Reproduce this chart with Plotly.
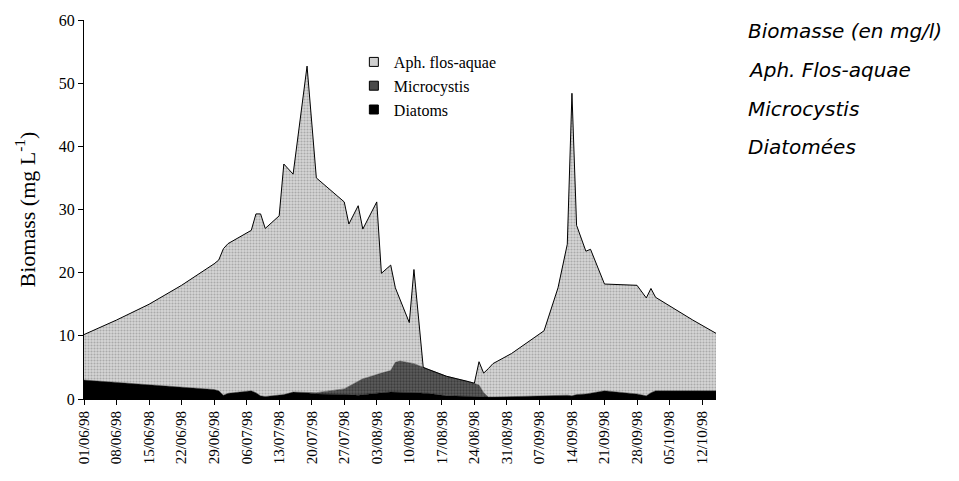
import plotly.graph_objects as go

dates = ["1998-06-01","1998-06-08","1998-06-15","1998-06-22","1998-06-29","1998-06-30",
         "1998-07-01","1998-07-02","1998-07-07","1998-07-08","1998-07-09","1998-07-10",
         "1998-07-13","1998-07-14","1998-07-16","1998-07-19","1998-07-21","1998-07-27",
         "1998-07-28","1998-07-30","1998-07-31","1998-08-01","1998-08-03","1998-08-04",
         "1998-08-06","1998-08-07","1998-08-08","1998-08-10","1998-08-11","1998-08-12",
         "1998-08-13","1998-08-14","1998-08-18","1998-08-23","1998-08-24","1998-08-25",
         "1998-08-26","1998-08-27","1998-08-28","1998-09-01","1998-09-08","1998-09-11",
         "1998-09-13","1998-09-14","1998-09-15","1998-09-17","1998-09-18","1998-09-21",
         "1998-09-28","1998-09-30","1998-10-01","1998-10-02","1998-10-10","1998-10-15"]

diatoms = [3.0,2.6,2.2,1.9,1.5,1.3,
           0.6,0.9,1.3,1.0,0.5,0.4,
           0.6,0.7,1.1,1.0,0.8,0.8,
           0.7,0.6,0.7,0.8,0.9,1.0,
           1.1,1.1,1.0,1.1,1.1,1.0,
           0.9,0.9,0.5,0.4,0.3,0.3,
           0.3,0.3,0.3,0.4,0.5,0.6,
           0.6,0.5,0.7,0.8,0.9,1.3,
           0.8,0.5,1.0,1.3,1.3,1.3]

microcystis = [0,0,0,0,0,0,
               0,0,0,0,0,0,
               0,0,0,0,0.2,0.8,
               1.3,2.3,2.5,2.6,3.0,3.1,
               3.4,4.7,5.0,4.7,4.5,4.3,
               4.1,3.8,3.1,2.3,2.2,1.9,
               0.7,0,0,0,0,0,
               0,0,0,0,0,0,
               0,0,0,0,0,0]

aph = [7.2,9.9,12.8,16.1,19.9,20.7,
       23.2,23.7,25.4,28.3,28.8,26.6,
       28.4,36.5,34.5,51.7,34.0,29.6,
       25.7,27.7,23.7,24.9,27.3,15.8,
       16.7,11.8,9.8,6.3,14.9,7.3,
       0,0,0,0,0,3.7,
       3.1,4.5,5.3,6.8,10.3,17.0,
       23.9,47.9,26.8,22.6,22.8,16.9,
       17.2,15.5,16.5,14.8,11.2,9.1]

tick_vals = ["1998-06-01","1998-06-08","1998-06-15","1998-06-22","1998-06-29","1998-07-06",
             "1998-07-13","1998-07-20","1998-07-27","1998-08-03","1998-08-10","1998-08-17",
             "1998-08-24","1998-08-31","1998-09-07","1998-09-14","1998-09-21","1998-09-28",
             "1998-10-05","1998-10-12"]
tick_text = ["01/06/98","08/06/98","15/06/98","22/06/98","29/06/98","06/07/98",
             "13/07/98","20/07/98","27/07/98","03/08/98","10/08/98","17/08/98",
             "24/08/98","31/08/98","07/09/98","14/09/98","21/09/98","28/09/98",
             "05/10/98","12/10/98"]

legend_names = ["Aph. flos-aquae", "Microcystis", "Diatoms"]
side_texts = ["Biomasse (en mg/l)", "Aph. Flos-aquae", "Microcystis", "Diatomées"]

serif = "Liberation Serif, Times New Roman, serif"

fig = go.Figure()
fig.add_trace(go.Scatter(x=dates, y=diatoms, stackgroup="s", mode="lines",
                         line=dict(color="#000000", width=0.5),
                         fillcolor="#000000", showlegend=False, name="Diatoms"))
fig.add_trace(go.Scatter(x=dates, y=microcystis, stackgroup="s", mode="lines",
                         line=dict(color="#2a2a2a", width=0.5),
                         fillcolor="#4a4a4a",
                         fillpattern=dict(shape=".", fgcolor="#1e1e1e", bgcolor="#5c5c5c",
                                          size=3, solidity=0.45),
                         showlegend=False, name="Microcystis"))
fig.add_trace(go.Scatter(x=dates, y=aph, stackgroup="s", mode="lines",
                         line=dict(color="#000000", width=1),
                         fillcolor="#c4c4c4",
                         fillpattern=dict(shape=".", fgcolor="#7e7e7e", bgcolor="#d6d6d6",
                                          size=3, solidity=0.4),
                         showlegend=False, name="Aph. flos-aquae"))

# legend entries (square symbols)
leg_colors = ["#cfcfcf", "#4a4a4a", "#000000"]
for name, col in zip(legend_names, leg_colors):
    fig.add_trace(go.Scatter(x=[None], y=[None], mode="markers", name=name,
                             marker=dict(symbol="square", size=9, color=col,
                                         line=dict(color="#000000", width=1))))

ys = [0.9711, 0.8688, 0.7664, 0.6640]
for t, yy in zip(side_texts, ys):
    fig.add_annotation(text="<i>" + t + "</i>", x=1.0475, y=yy, xref="paper", yref="paper",
                       xanchor="left", yanchor="middle", showarrow=False,
                       font=dict(family="DejaVu Sans", size=20, color="#000000"))

fig.update_layout(
    width=959, height=481,
    margin=dict(l=84, r=243, t=18, b=82),
    paper_bgcolor="white", plot_bgcolor="white",
    font=dict(family=serif, size=15, color="#000000"),
    showlegend=True,
    legend=dict(x=0.427, y=0.934, xanchor="left", yanchor="top",
                traceorder="normal",
                font=dict(family=serif, size=16, color="#000000"),
                bgcolor="rgba(0,0,0,0)", itemwidth=30, tracegroupgap=0),
    xaxis=dict(type="date", range=["1998-06-01", "1998-10-15"],
               tickmode="array", tickvals=tick_vals, ticktext=tick_text,
               tickangle=-90, ticks="outside", ticklen=5, tickcolor="#000000",
               showline=True, linecolor="#000000", linewidth=1,
               showgrid=False, zeroline=False,
               tickfont=dict(family=serif, size=15)),
    yaxis=dict(range=[0, 60], tickvals=[0, 10, 20, 30, 40, 50, 60],
               ticks="outside", ticklen=5, tickcolor="#000000",
               showline=True, linecolor="#000000", linewidth=1,
               showgrid=False, zeroline=False,
               tickfont=dict(family=serif, size=16),
               title=dict(text="Biomass (mg L<sup>-1</sup>)",
                          font=dict(family=serif, size=22), standoff=17)),
)

fig.write_html("out.html")
